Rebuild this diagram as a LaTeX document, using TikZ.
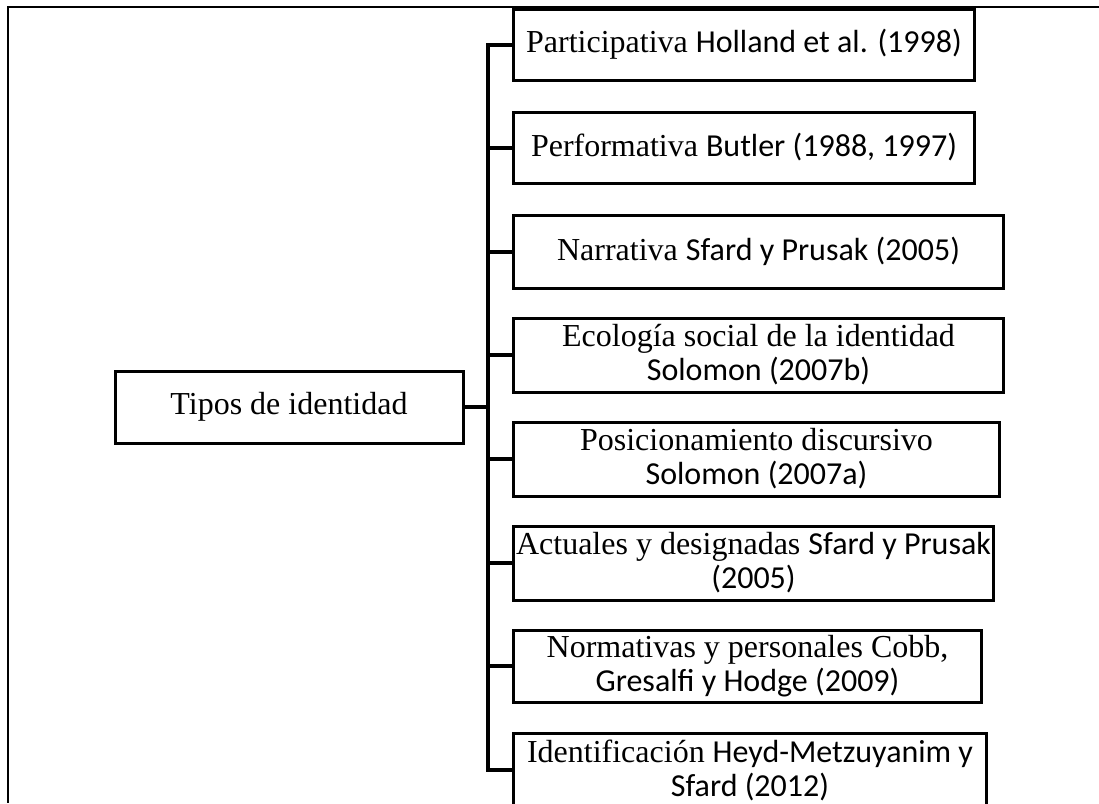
\documentclass[tikz,border=0pt]{standalone}
\usepackage{fontspec}
\setmainfont{Liberation Serif}
\newfontfamily\calib{Carlito}
\newcommand{\sn}[1]{{\calib #1}}
\usetikzlibrary{calc}

\tikzset{
  frameline/.style={line width=2pt},
  branch/.style={line width=4pt},
  trunkline/.style={line width=4pt, line join=miter},
  typebox/.style={draw, line width=3pt, rectangle, anchor=west, inner sep=0pt,
    align=center, font=\fontsize{32}{34}\selectfont},
  rootbox/.style={draw, line width=3pt, rectangle, inner sep=0pt,
    align=center, font=\fontsize{32}{34}\selectfont},
}

\begin{document}
\begin{tikzpicture}[x=1pt,y=-1pt]
  \useasboundingbox (0,0) rectangle (1099,803);
  \clip (0,0) rectangle (1099,803);

  % page frame
  \draw[frameline] (1099,7) -- (8,7) -- (8,803);

  % root
  \node[rootbox, minimum width=348pt, minimum height=72pt] (root) at (289,407)
    {Tipos de identidad};

  % identity types
  \node[typebox, minimum width=461pt, minimum height=71pt] (b1) at (512,44.5)
    {Participativa \sn{Holland et al. (1998)}};
  \node[typebox, minimum width=461pt, minimum height=71pt] (b2) at (512,147.5)
    {Performativa \sn{Butler (1988, 1997)}};
  \node[typebox, minimum width=490pt, minimum height=73pt] (b3) at (512,251.5)
    {Narrativa \sn{Sfard y Prusak (2005)}};
  \node[typebox, minimum width=490pt, minimum height=74pt] (b4) at (512,355)
    {Ecología social de la identidad\\ \sn{Solomon (2007b)}};
  \node[typebox, minimum width=486pt, minimum height=74pt] (b5) at (512,459)
    {Posicionamiento discursivo\\ \sn{Solomon (2007a)}};
  \node[typebox, minimum width=480pt, minimum height=74pt] (b6) at (512,563)
    {Actuales y designadas \sn{Sfard y Prusak}\\ \sn{(2005)}};
  \node[typebox, minimum width=468pt, minimum height=72pt] (b7) at (512,666)
    {Normativas y personales Cobb,\\ \sn{Gresalfi y Hodge (2009)}};
  \node[typebox, minimum width=473pt, minimum height=74pt] (b8) at (512,770)
    {Identificación \sn{Heyd-Metzuyanim y}\\ \sn{Sfard (2012)}};

  % trunk with first and last branches
  \coordinate (ttop) at ([xshift=-24pt]b1.west);
  \coordinate (tbot) at ([xshift=-24pt]b8.west);
  \draw[trunkline] (b1.west) -- (ttop) -- (tbot) -- (b8.west);

  % middle branches
  \foreach \b in {b2,b3,b4,b5,b6,b7}
    \draw[branch] (\b.west) -- (\b.west -| ttop);

  % root to trunk
  \draw[branch] (root.east) -- (root.east -| ttop);
\end{tikzpicture}
\end{document}
